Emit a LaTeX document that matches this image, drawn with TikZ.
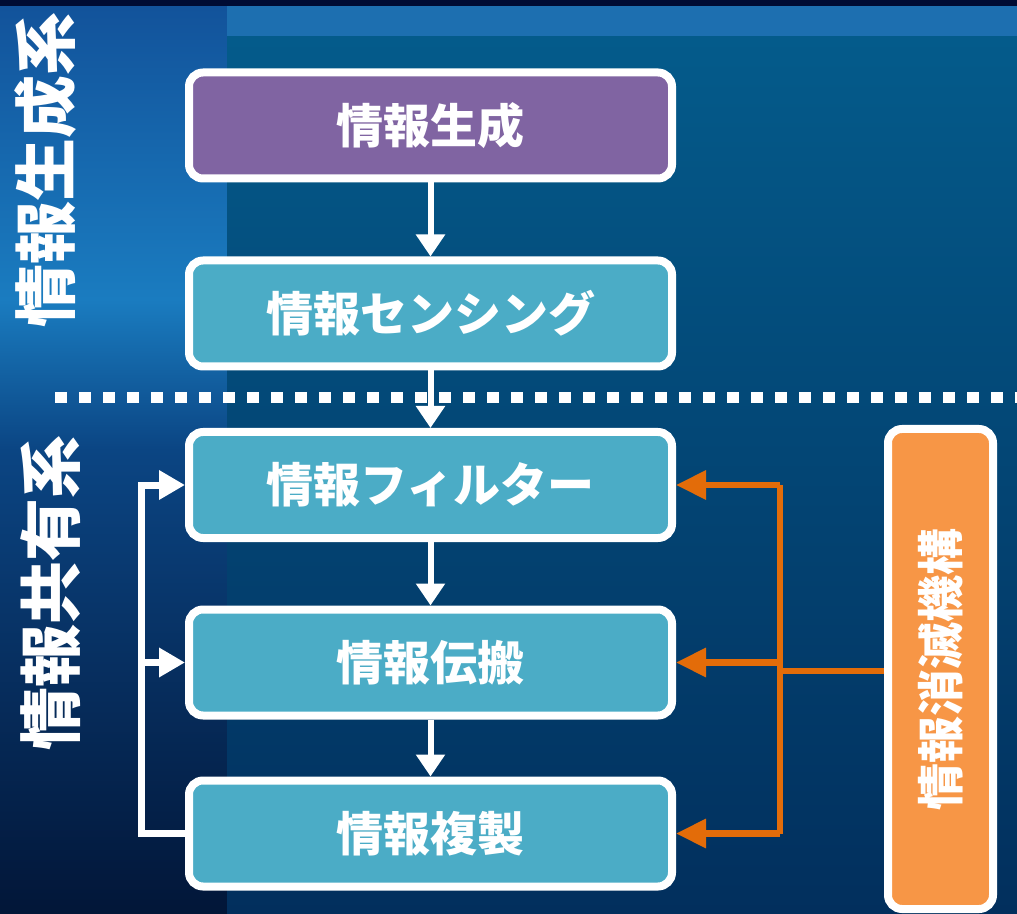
\documentclass[tikz,border=0pt]{standalone}
\usepackage{fontspec}
\usepackage{graphicx}
\newfontfamily\jp{Noto Sans CJK JP}
\usetikzlibrary{arrows.meta}
\definecolor{purp}{HTML}{8064A2}
\definecolor{teal}{HTML}{4BACC6}
\definecolor{orbox}{HTML}{F79646}
\definecolor{orline}{HTML}{E36C09}
\definecolor{oceanA}{HTML}{12529A}
\definecolor{oceanB}{HTML}{1A7CC0}
\definecolor{oceanC}{HTML}{0B4583}
\definecolor{oceanD}{HTML}{021638}
\definecolor{paneltop}{HTML}{045B8B}
\definecolor{panelbot}{HTML}{022F5D}
\definecolor{topstrip}{HTML}{000C33}
\definecolor{topband}{HTML}{1D6FB0}
\begin{document}
\begin{tikzpicture}[x=0.5pt,y=-0.5pt,
  jpfont/.style={font=\jp\bfseries\fontsize{23.5pt}{28pt}\selectfont},
  box/.style={draw=white, line width=4pt, rounded corners=7pt,
    minimum width=241.5pt, minimum height=53pt, inner sep=0pt,
    jpfont, text=white},
  genbox/.style={box, fill=purp},
  tealbox/.style={box, fill=teal},
  obox/.style={draw=white, line width=4pt, rounded corners=7pt,
    minimum width=52.5pt, minimum height=240pt, inner sep=0pt,
    fill=orbox, jpfont, text=white},
  sidelabel/.style={font=\jp\bfseries\fontsize{31.5pt}{36pt}\selectfont,
    text=white, rotate=90, inner sep=0pt},
  warr/.style={draw=white, line width=3pt, -{Triangle[length=11pt,width=14pt]}},
  fbline/.style={draw=white, line width=3.5pt},
  fbarr/.style={fbline, -{Triangle[length=13pt,width=14pt]}},
  oline/.style={draw=orline, line width=3.2pt},
  oarr/.style={oline, -{Triangle[length=15pt,width=14pt]}},
  divider/.style={draw=white, line width=5.5pt, dash pattern=on 6pt off 6pt}
]
\useasboundingbox (0,0) rectangle (1017,914);
% background: ocean on the left and top
\shade[top color=oceanA, bottom color=oceanB] (0,0) rectangle (1017,300);
\shade[top color=oceanB, bottom color=oceanC] (0,299.5) rectangle (1017,450);
\shade[top color=oceanC, bottom color=oceanD] (0,449.5) rectangle (1017,914);
\fill[topband] (227,6) rectangle (1017,37);
\fill[topstrip] (0,0) rectangle (1017,6);
% dark panel
\shade[top color=paneltop, bottom color=panelbot] (227,37) rectangle (1017,914);
% divider
\draw[divider] (55,398) -- (1017,398);
% side labels
\node[sidelabel] (lgen) at (45,170) {情報生成系};
\node[sidelabel] (lshare) at (51,593) {情報共有系};
% boxes
\node[genbox] (gen) at (430.5,125.5) {情報生成};
\node[tealbox] (sense) at (430.5,313.5) {情報センシング};
\node[tealbox] (filt) at (430.5,485) {情報フィルター};
\node[tealbox] (prop) at (430.5,662.5) {情報伝搬};
\node[tealbox] (copy) at (430.5,833.5) {情報複製};
\node[obox] (elim) at (940.5,669) {\rotatebox{90}{情報消滅機構}};
% main flow
\draw[warr] (gen) -- (sense);
\draw[warr] (sense) -- (filt);
\draw[warr] (filt) -- (prop);
\draw[warr] (prop) -- (copy);
% left feedback
\coordinate (fbx) at (141,0);
\draw[fbarr] (copy.west) -- (copy.west -| fbx) |- (filt.west);
\draw[fbarr] (prop.west -| fbx) -- (prop.west);
% orange connectors
\coordinate (ox) at (780,0);
\coordinate (ojoin) at (780,671);
\draw[oline] (elim.west |- ojoin) -- (ojoin);
\draw[oline] (filt.east -| ox) -- (copy.east -| ox);
\draw[oarr] (filt.east -| ox) -- (filt.east);
\draw[oarr] (prop.east -| ox) -- (prop.east);
\draw[oarr] (copy.east -| ox) -- (copy.east);
\end{tikzpicture}
\end{document}
